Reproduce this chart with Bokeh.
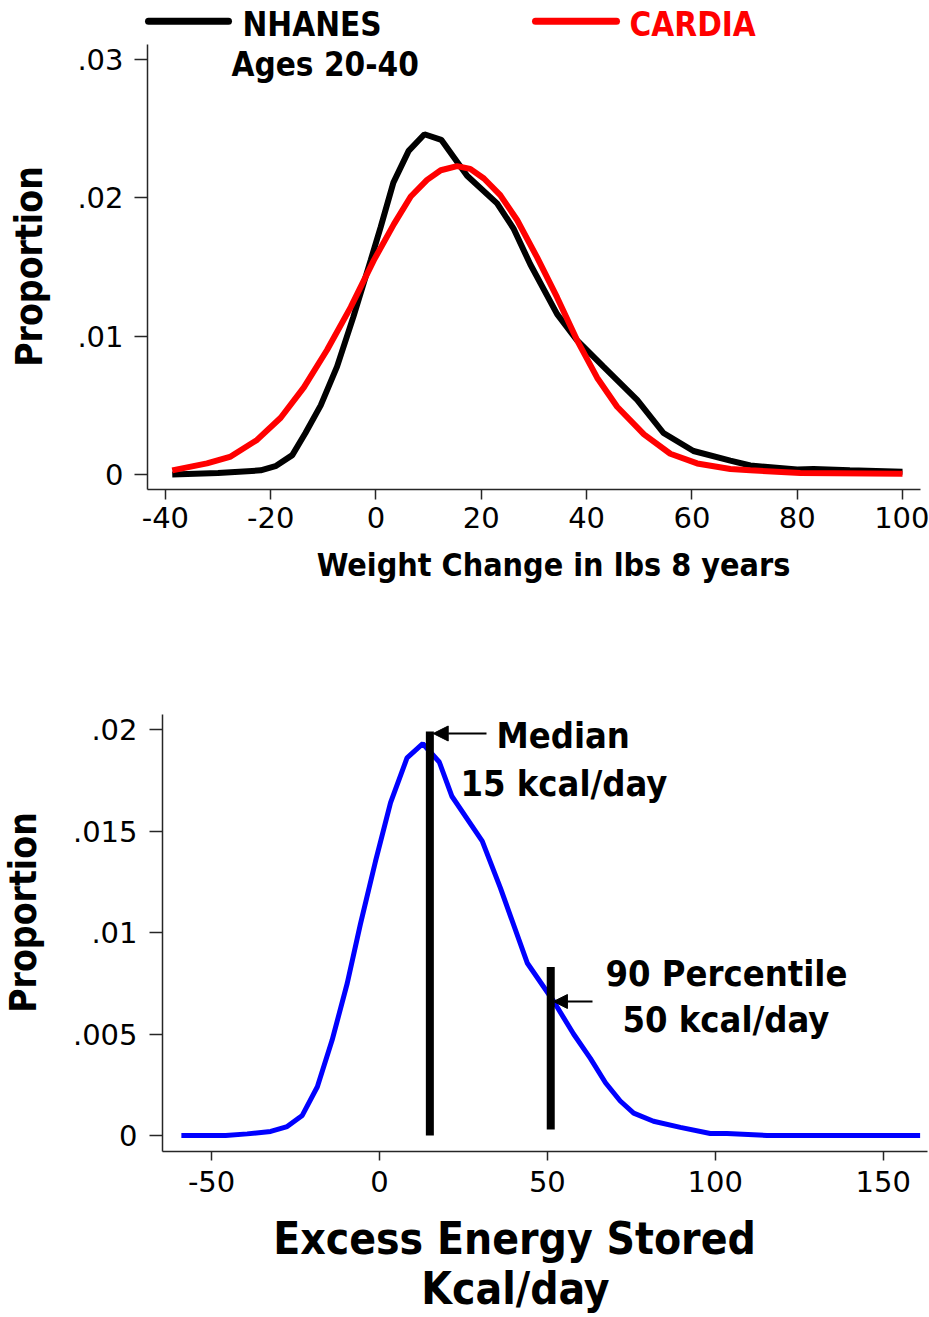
import math
from bokeh.plotting import figure
from bokeh.layouts import column
from bokeh.models import FixedTicker, Label, Arrow, NormalHead, Range1d
from bokeh.embed import file_html
from bokeh.resources import INLINE

# ---------------- data ----------------
nhanes_x = [-38.7, -30.0, -21.9, -19.1, -15.9, -13.4, -10.5, -7.4, -4.3, -1.0, 0.9, 3.3, 6.2, 9.2,
            12.4, 17.3, 23.0, 26.1, 29.3, 34.4, 38.2, 43.2, 49.6, 54.6, 60.3, 67.3, 71.1, 80.0,
            83.1, 90.0, 100.0]
nhanes_y = [0.0000, 0.0001, 0.0003, 0.0006, 0.0014, 0.0030, 0.0050, 0.0078, 0.0114, 0.0155, 0.0179,
            0.0211, 0.0234, 0.0246, 0.0242, 0.0216, 0.0196, 0.0178, 0.0152, 0.0116, 0.0097, 0.0078,
            0.0054, 0.0030, 0.0017, 0.0010, 0.00065, 0.00036, 0.0004, 0.0003, 0.0002]

cardia_x = [-38.7, -32.1, -27.6, -22.6, -18.1, -13.7, -9.3, -4.8, -0.4, 3.4, 6.6, 9.7, 12.3, 15.4,
            17.9, 20.5, 23.6, 26.8, 30.6, 34.4, 38.2, 42.0, 45.8, 50.9, 55.9, 61.0, 67.3, 71.1,
            80.6, 100.0]
cardia_y = [0.0003, 0.0008, 0.0013, 0.0025, 0.0041, 0.0063, 0.0090, 0.0121, 0.0155, 0.0181, 0.0201,
            0.0213, 0.0220, 0.0223, 0.0221, 0.0214, 0.0202, 0.0184, 0.0157, 0.0128, 0.0097, 0.0070,
            0.0049, 0.0029, 0.0015, 0.0008, 0.0004, 0.0003, 0.0001, 0.00005]

energy_x = [-59.0, -45.8, -39.4, -32.4, -27.5, -23.0, -18.5, -14.1, -9.6, -5.7, -1.2, 3.3, 8.2, 12.9,
            17.8, 21.6, 30.6, 36.0, 44.0, 51.9, 57.8, 62.8, 67.3, 71.7, 75.7, 81.6, 89.6, 98.5,
            103.5, 115.4, 125.3, 150.0, 161.0]
energy_y = [0.0, 0.0, 0.00008, 0.0002, 0.00044, 0.00099, 0.0024, 0.0047, 0.0075, 0.0104, 0.0135,
            0.0164, 0.0186, 0.0193, 0.0184, 0.0167, 0.0145, 0.0122, 0.0085, 0.0066, 0.0050, 0.0038,
            0.0026, 0.0017, 0.0011, 0.0007, 0.0004, 0.0001, 0.0001, 0.0, 0.0, 0.0, 0.0]

marker_x = [15, 51]
marker_bottom = [0.0, 0.0003]
marker_top = [0.0199, 0.0083]

top_xticks = [-40, -20, 0, 20, 40, 60, 80, 100]
top_yticks = [0.0, 0.01, 0.02, 0.03]
top_ylabels = ["0", ".01", ".02", ".03"]
bot_xticks = [-50, 0, 50, 100, 150]
bot_yticks = [0.0, 0.005, 0.01, 0.015, 0.02]
bot_ylabels = ["0", ".005", ".01", ".015", ".02"]

# ---------------- styling ----------------
TICK_FONT = "DejaVu Sans"
BOLD_FONT = "DejaVu Sans Condensed"
AXIS_COLOR = "#262626"

OFF = 0          # page offset of the layout (bokeh template has no body margin)
W = 929
H1 = 640
H2 = 677
BASE_FIX = 0.38  # empirical shift of the alphabetic anchor, in em

# page-pixel geometry of the axes boxes
F1_L, F1_R, F1_T, F1_B = 147, 920, 44, 489
X1_LO, X1_HI = -43.40, 103.42
Y1_LO, Y1_HI = -0.001085, 0.03109
F2_L, F2_R, F2_T, F2_B = 162, 927, 714, 1151
X2_LO, X2_HI = -64.62, 163.2
Y2_LO, Y2_HI = -0.000788, 0.02074


def px1(x):
    return X1_LO + (x - F1_L) * (X1_HI - X1_LO) / (F1_R - F1_L)


def py1(y):
    return Y1_LO + (F1_B - y) * (Y1_HI - Y1_LO) / (F1_B - F1_T)


def px2(x):
    return X2_LO + (x - F2_L) * (X2_HI - X2_LO) / (F2_R - F2_L)


def py2(y):
    return Y2_LO + (F2_B - y) * (Y2_HI - Y2_LO) / (F2_B - F2_T)


def style(p, xticks, yticks, ylabels, xtick_out, ytick_out, xstand, ystand, xb, yb):
    p.outline_line_color = None
    p.xgrid.visible = False
    p.ygrid.visible = False
    p.background_fill_color = "white"
    p.border_fill_color = "white"
    p.xaxis.ticker = FixedTicker(ticks=xticks)
    p.yaxis.ticker = FixedTicker(ticks=yticks)
    p.yaxis.major_label_overrides = {v: l for v, l in zip(yticks, ylabels)}
    p.xaxis.major_label_overrides = {v: str(v) for v in xticks}
    p.xaxis.fixed_location = yb[0]
    p.xaxis.bounds = xb
    p.yaxis.fixed_location = xb[0]
    p.yaxis.bounds = yb
    for ax, tout, stand in ((p.xaxis, xtick_out, xstand), (p.yaxis, ytick_out, ystand)):
        ax.axis_line_color = AXIS_COLOR
        ax.axis_line_width = 1.5
        ax.major_tick_line_color = AXIS_COLOR
        ax.major_tick_line_width = 1.5
        ax.major_tick_out = tout
        ax.major_tick_in = 0
        ax.minor_tick_line_color = None
        ax.major_label_text_font = TICK_FONT
        ax.major_label_text_font_size = "29px"
        ax.major_label_text_color = "black"
        ax.major_label_standoff = stand
    p.yaxis.major_label_orientation = "horizontal"


def lab(p, fx, fy, x, y, text, size, color="black", align="left", rotated=False):
    """x, y: page pixels of the text baseline anchor."""
    shift = BASE_FIX * size
    if rotated:
        x, angle = x - shift, math.pi / 2
    else:
        y, angle = y - shift, 0.0
    p.add_layout(Label(x=fx(x), y=fy(y), text=text, text_font=BOLD_FONT,
                       text_font_size=f"{size}px", text_font_style="bold", text_color=color,
                       text_align=align, text_baseline="alphabetic", angle=angle))


# ---------------- top plot ----------------
p1 = figure(width=W, height=H1, title=None,
            x_range=Range1d(px1(OFF), px1(OFF + W)), y_range=Range1d(py1(OFF + H1), py1(OFF)),
            output_backend="svg", toolbar_location=None, min_border=0)
style(p1, top_xticks, top_yticks, top_ylabels, 10, 13, 7, 11, (X1_LO, X1_HI), (Y1_LO, Y1_HI))

p1.line(nhanes_x, nhanes_y, line_color="black", line_width=6)
p1.line(cardia_x, cardia_y, line_color="red", line_width=6)

# legend (manual)
p1.add_layout(Arrow(start=None, end=None, x_start=px1(148), y_start=py1(20.7), x_end=px1(228),
                    y_end=py1(20.7), line_color="black", line_width=7, line_cap="round"))
p1.add_layout(Arrow(start=None, end=None, x_start=px1(535), y_start=py1(20.7), x_end=px1(616),
                    y_end=py1(20.7), line_color="red", line_width=7, line_cap="round"))

lab(p1, px1, py1, 242, 37, "NHANES", 33)
lab(p1, px1, py1, 629, 37, "CARDIA", 33, color="red")
lab(p1, px1, py1, 231, 77, "Ages 20-40", 33)
lab(p1, px1, py1, 553, 577, "Weight Change in lbs 8 years", 32, align="center")
lab(p1, px1, py1, 43, 266, "Proportion", 37, align="center", rotated=True)

# ---------------- bottom plot ----------------
p2 = figure(width=W, height=H2, title=None,
            x_range=Range1d(px2(OFF), px2(OFF + W)),
            y_range=Range1d(py2(OFF + H1 + H2), py2(OFF + H1)),
            output_backend="svg", toolbar_location=None, min_border=0)
style(p2, bot_xticks, bot_yticks, bot_ylabels, 9, 13, 10, 12, (X2_LO, X2_HI), (Y2_LO, Y2_HI))

p2.line(energy_x, energy_y, line_color="blue", line_width=5)
p2.segment(x0=marker_x, y0=marker_bottom, x1=marker_x, y1=marker_top, line_color="black",
           line_width=8, line_cap="butt")

p2.add_layout(Arrow(end=NormalHead(size=15, fill_color="black", line_color="black"),
                    x_start=px2(486), y_start=py2(733), x_end=marker_x[0] + 1.0, y_end=py2(733),
                    line_color="black", line_width=2))
p2.add_layout(Arrow(end=NormalHead(size=14, fill_color="black", line_color="black"),
                    x_start=px2(592), y_start=py2(1001), x_end=marker_x[1] + 0.8, y_end=py2(1001),
                    line_color="black", line_width=2))

lab(p2, px2, py2, 496, 749, "Median", 36)
lab(p2, px2, py2, 460, 797, "15 kcal/day", 36)
lab(p2, px2, py2, 605, 987, "90 Percentile", 36)
lab(p2, px2, py2, 622, 1033, "50 kcal/day", 36)
lab(p2, px2, py2, 514, 1255, "Excess Energy Stored", 44, align="center")
lab(p2, px2, py2, 515, 1305, "Kcal/day", 44, align="center")
lab(p2, px2, py2, 37, 912, "Proportion", 37, align="center", rotated=True)

layout = column(p1, p2, spacing=0)
open("out.html", "w").write(file_html(layout, INLINE))
